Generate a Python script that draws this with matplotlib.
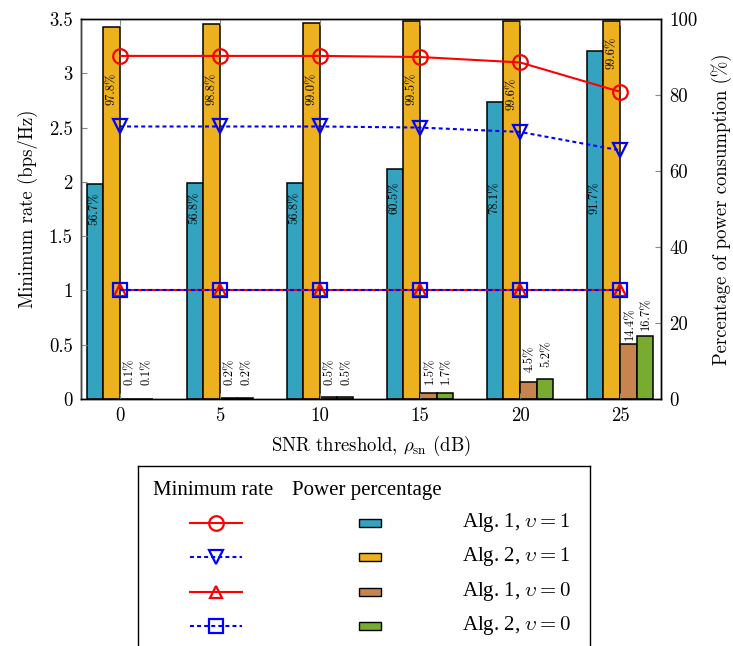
import matplotlib
matplotlib.use('Agg')
import matplotlib.pyplot as plt
from matplotlib.patches import Rectangle
from matplotlib.lines import Line2D

plt.rcParams['font.family'] = ['cmr10', 'DejaVu Serif']
plt.rcParams['mathtext.fontset'] = 'cm'
plt.rcParams['axes.formatter.use_mathtext'] = True
plt.rcParams['axes.unicode_minus'] = False

# ---------------- data ----------------
snr = [0, 5, 10, 15, 20, 25]
snr_ticklabels = ['0', '5', '10', '15', '20', '25']

rate_alg1_v1 = [3.16, 3.16, 3.16, 3.15, 3.10, 2.83]
rate_alg2_v1 = [2.51, 2.51, 2.51, 2.50, 2.46, 2.29]
rate_alg1_v0 = [1.0, 1.0, 1.0, 1.0, 1.0, 1.0]
rate_alg2_v0 = [1.0, 1.0, 1.0, 1.0, 1.0, 1.0]

pow_alg1_v1 = [56.7, 56.8, 56.8, 60.5, 78.1, 91.7]
pow_alg2_v1 = [97.8, 98.8, 99.0, 99.5, 99.6, 99.6]
pow_alg1_v0 = [0.1, 0.2, 0.5, 1.5, 4.5, 14.4]
pow_alg2_v0 = [0.1, 0.2, 0.5, 1.7, 5.2, 16.7]

left_ticks = [0, 0.5, 1, 1.5, 2, 2.5, 3, 3.5]
left_ticklabels = ['0', '0.5', '1', '1.5', '2', '2.5', '3', '3.5']
right_ticks = [0, 20, 40, 60, 80, 100]
right_ticklabels = ['0', '20', '40', '60', '80', '100']

legend_labels = [r'Alg. 1, $\upsilon = 1$', r'Alg. 2, $\upsilon = 1$',
                 r'Alg. 1, $\upsilon = 0$', r'Alg. 2, $\upsilon = 0$']

# label placement (layout only)
orange_label_top = [86, 86, 86, 86, 84.7, 95.3]
brown_label_bottom = [3.7, 3.7, 3.7, 3.9, 7.1, 15.5]
green_label_bottom = [3.7, 3.7, 3.7, 3.9, 8.4, 18.2]

# ---------------- style ----------------
c_teal = '#33A3BF'
c_orange = '#EDB120'
c_brown = '#C8844F'
c_green = '#77AC30'
bw = 5 / 6
offs = [-1.5 * bw, -0.5 * bw, 0.5 * bw, 1.5 * bw]
dotted = (0, (1.9, 1.5))

W, H = 733, 646
fig = plt.figure(figsize=(W / 100, H / 100), dpi=100)
ax = fig.add_axes([81 / W, 1 - 399 / H, (661 - 81) / W, (399 - 19) / H])
ax2 = ax.twinx()
ax.set_zorder(ax2.get_zorder() + 1)
ax.patch.set_visible(False)

# bars on right axis
series = [pow_alg1_v1, pow_alg2_v1, pow_alg1_v0, pow_alg2_v0]
colors = [c_teal, c_orange, c_brown, c_green]
for s, c, o in zip(series, colors, offs):
    ax2.bar([x + o for x in snr], s, width=bw, color=c, edgecolor='black',
            linewidth=1.1, zorder=2)

fs_lab = 9
for i, x in enumerate(snr):
    v = pow_alg1_v1[i]
    ax2.text(x + offs[0], min(v - 2.2, 57.2), f'{v:.1f}%', rotation=90,
             ha='center', va='top', fontsize=fs_lab, zorder=3)
    v = pow_alg2_v1[i]
    ax2.text(x + offs[1], orange_label_top[i], f'{v:.1f}%', rotation=90,
             ha='center', va='top', fontsize=fs_lab, zorder=3)
    v = pow_alg1_v0[i]
    ax2.text(x + offs[2] + 0.08, brown_label_bottom[i], f'{v:.1f}%', rotation=90,
             ha='center', va='bottom', fontsize=fs_lab, zorder=3)
    v = pow_alg2_v0[i]
    ax2.text(x + offs[3] + 0.08, green_label_bottom[i], f'{v:.1f}%', rotation=90,
             ha='center', va='bottom', fontsize=fs_lab, zorder=3)

# lines on left axis
lw = 1.5
ms = 10.5
mew = 1.6
ax.plot(snr, rate_alg1_v1, color='red', lw=lw, marker='o', ms=ms, mew=mew,
        mfc='none', zorder=5)
ax.plot(snr, rate_alg2_v1, color='blue', lw=lw, ls=dotted, marker='v', ms=ms,
        mew=mew, mfc='none', zorder=5)
ax.plot(snr, rate_alg1_v0, color='red', lw=lw, marker='^', ms=ms - 1.5, mew=mew,
        mfc='none', zorder=5)
ax.plot(snr, rate_alg2_v0, color='blue', lw=lw, ls=dotted, marker='s', ms=ms,
        mew=mew, mfc='none', zorder=6)

ax.set_xlim(-1.95, 27.05)
ax.set_ylim(0, 3.5)
ax2.set_ylim(0, 100)
ax.set_xticks(snr)
ax.set_xticklabels(snr_ticklabels)
ax.set_yticks(left_ticks)
ax.set_yticklabels(left_ticklabels)
ax2.set_yticks(right_ticks)
ax2.set_yticklabels(right_ticklabels)

fs = 13.5
for a in (ax, ax2):
    a.tick_params(direction='in', length=4, width=0.8, color='#888888',
                  labelsize=fs, pad=6)
ax.tick_params(axis='x', top=True)
ax2.tick_params(axis='y', right=True, left=False)
for a in (ax, ax2):
    for sp in a.spines.values():
        sp.set_linewidth(1.0)
        sp.set_color('black')
ax.spines['left'].set_color('#444444')

ax.set_xlabel(r'SNR threshold, $\rho_{\rm sn}$ (dB)', fontsize=fs, labelpad=6)
ax.set_ylabel('Minimum rate (bps/Hz)', fontsize=fs, labelpad=8)
ax2.set_ylabel('Percentage of power consumption (%)', fontsize=fs, labelpad=10)

# ---------------- custom legend ----------------
lg = fig.add_axes([138 / W, (H - 662) / H, (590 - 138) / W, (662 - 466) / H])
lg.set_xlim(138, 590)
lg.set_ylim(662, 466)
lg.set_xticks([])
lg.set_yticks([])
for sp in lg.spines.values():
    sp.set_linewidth(1.0)
    sp.set_color('black')

lfont = ['Liberation Serif', 'DejaVu Serif']
lfs = 15
lg.text(153, 491, 'Minimum rate', family=lfont, fontsize=lfs, va='center', ha='left')
lg.text(292, 491, 'Power percentage', family=lfont, fontsize=lfs, va='center', ha='left')

row_y = [523, 557, 592, 626]
line_styles = [('red', '-', 'o'), ('blue', dotted, 'v'), ('red', '-', '^'), ('blue', dotted, 's')]
for (c, ls, mk), y, fc, lab in zip(line_styles, row_y, colors, legend_labels):
    lg.add_line(Line2D([190, 242], [y, y], color=c, ls=ls, lw=lw))
    lg.add_line(Line2D([216], [y], color=c, marker=mk, ms=ms if mk != '^' else ms - 1.5,
                       mew=mew, mfc='none', ls='none'))
    lg.add_patch(Rectangle((359, y - 4), 22, 8, facecolor=fc, edgecolor='black', lw=1.0))
    lg.text(462, y, lab, family=lfont, fontsize=lfs, va='center', ha='left')

fig.savefig('out.png', dpi=100)
